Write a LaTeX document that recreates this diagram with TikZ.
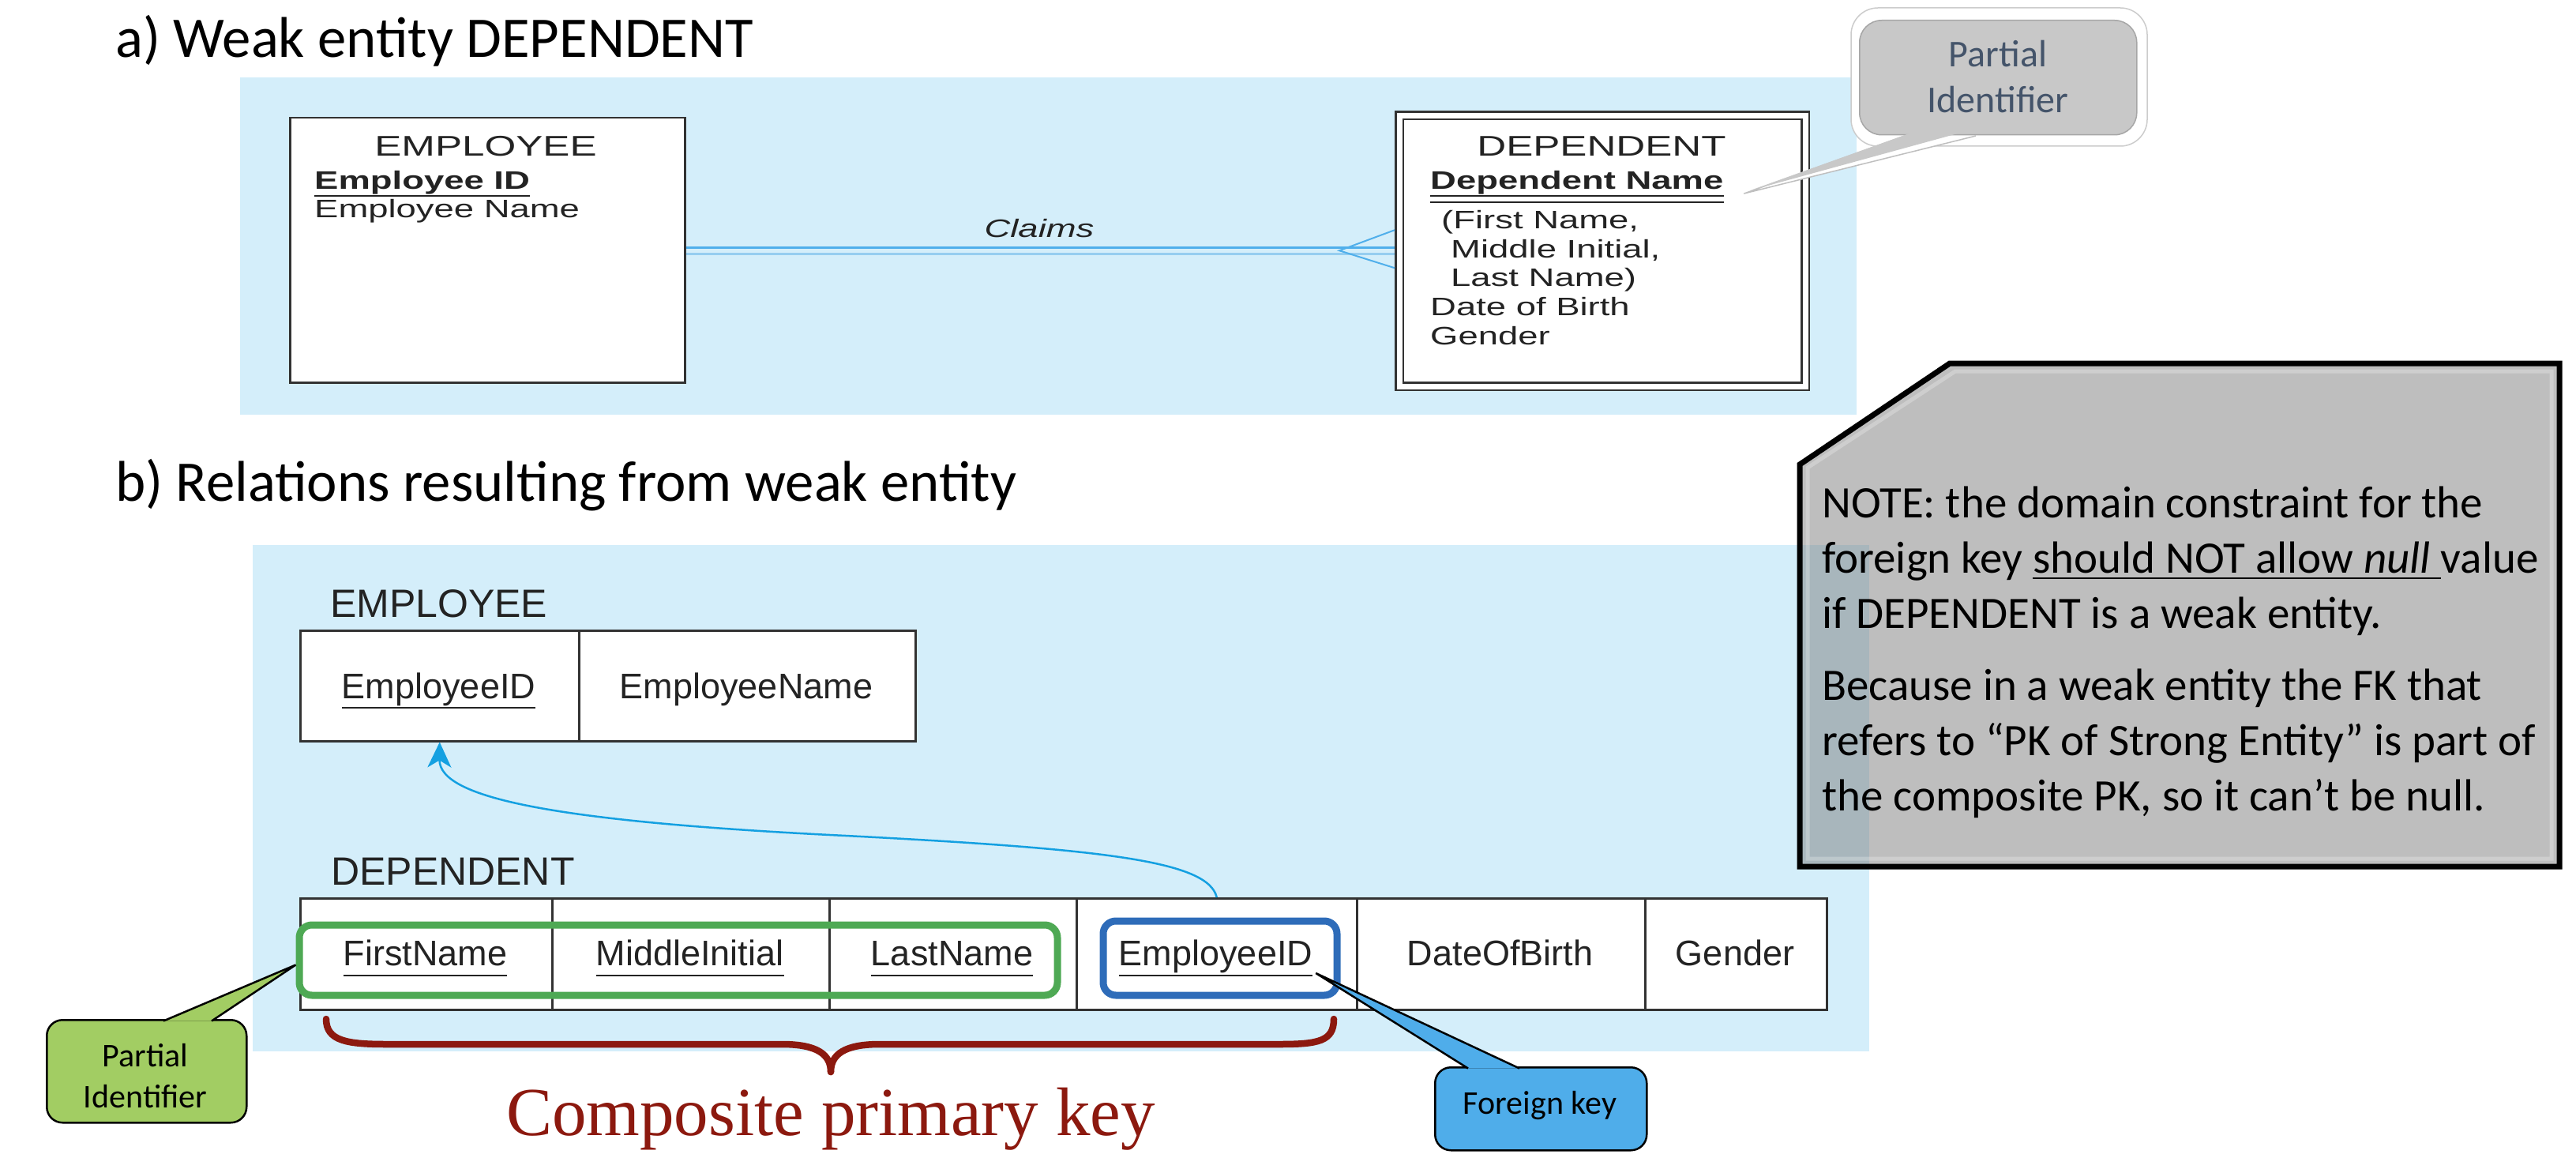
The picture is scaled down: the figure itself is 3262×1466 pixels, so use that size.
\documentclass[tikz,border=0pt]{standalone}
\usepackage{fontspec}
\setmainfont{Carlito}
\newfontfamily\erA[FakeStretch=1.42]{Liberation Sans}
\newfontfamily\erB{Liberation Sans}
\newfontfamily\tnr{Liberation Serif}
\usetikzlibrary{arrows.meta}
\definecolor{bgblue}{RGB}{212,238,250}
\definecolor{erink}{RGB}{35,35,35}
\definecolor{erline}{RGB}{50,50,50}
\definecolor{relA}{RGB}{80,175,235}
\definecolor{relB}{RGB}{150,205,240}
\definecolor{fkblue}{RGB}{20,160,225}
\definecolor{pkgreen}{RGB}{78,169,84}
\definecolor{fkbox}{RGB}{46,108,185}
\definecolor{pkmaroon}{RGB}{140,25,15}
\definecolor{greenfill}{RGB}{162,205,99}
\definecolor{bluefill}{RGB}{79,173,234}
\definecolor{callfill}{RGB}{200,200,200}
\definecolor{slate}{RGB}{68,84,106}
\definecolor{notegray}{RGB}{124,124,124}
\newcommand\myul[1]{\setbox0\hbox{#1}\rlap{\rule[-8pt]{\wd0}{2.5pt}}\box0}
\begin{document}
\begin{tikzpicture}[x=1pt,y=-1pt,
 ttl/.style={anchor=base west,inner sep=0pt,font=\fontsize{72.8}{87}\selectfont},
 erbox/.style={draw=erline,line width=2.5pt,fill=white,inner sep=0pt,anchor=north west},
 titA/.style={anchor=base,inner sep=0pt,text=erink,font=\erA\fontsize{36}{43}\selectfont},
 attA/.style={anchor=base west,inner sep=0pt,text=erink,font=\erA\fontsize{32}{38}\selectfont},
 labB/.style={anchor=base west,inner sep=0pt,text=erink,font=\erB\fontsize{50}{60}\selectfont},
 attB/.style={anchor=base,inner sep=0pt,text=erink,font=\erB\fontsize{45}{54}\selectfont},
 uline/.style={draw=erink,line width=2.5pt},
 relline/.style={line width=2.5pt},
 crow/.style={draw=relA,line width=2pt},
 fkarrow/.style={draw=fkblue,line width=2.5pt,-{Stealth[length=32pt,width=30pt,inset=9pt]}},
 hilite/.style={draw,rounded corners=16pt,line width=9pt,inner sep=0pt,anchor=north west},
 callout/.style={draw=black,line width=2.5pt,rounded corners=20pt,inner sep=0pt,anchor=north west},
 calltext/.style={anchor=base,inner sep=0pt,font=\fontsize{42}{50}\selectfont},
 notetext/.style={anchor=base west,inner sep=0pt,font=\fontsize{57}{70}\selectfont}
]
\useasboundingbox (0,0) rectangle (3262,1466);
\fill[white] (0,0) rectangle (3262,1466);

% ---------- part a ----------
\fill[bgblue] (304,98) rectangle (2351,525);
\node[ttl] (ta) at (146,73) {a) Weak entity DEPENDENT};

\node[erbox,minimum width=500pt,minimum height=335pt] (empA) at (366,148) {};
\node[titA] (empAt) at (615,197) {EMPLOYEE};
\node[attA] (empAid) at (398,239) {\bfseries Employee ID};
\draw[uline] ([yshift=-9pt]empAid.base west) -- ([yshift=-9pt]empAid.base east);
\node[attA] (empAn) at (398,275) {Employee Name};

\node[erbox,double=white,double distance=7pt,minimum width=514pt,minimum height=343pt] (depA) at (1771,145) {};
\node[titA] (depAt) at (2028,197) {DEPENDENT};
\node[attA] (depAn) at (1811,240) {\bfseries Dependent Name};
\draw[uline] ([yshift=-8pt]depAn.base west) -- ([yshift=-8pt]depAn.base east);
\draw[uline] ([yshift=-16pt]depAn.base west) -- ([yshift=-16pt]depAn.base east);
\node[attA] (depA1) at (1825,289) {(First Name,};
\node[attA] (depA2) at (1837,326) {Middle Initial,};
\node[attA] (depA3) at (1837,362) {Last Name)};
\node[attA] (depA4) at (1811,399) {Date of Birth};
\node[attA] (depA5) at (1811,436) {Gender};
\node[attA,anchor=base] (claims) at (1316,300) {\itshape Claims};

\draw[relline,draw=relA] ([yshift=3.5pt]empA.east) -- ([xshift=-5pt,yshift=4.5pt]depA.west);
\draw[relline,draw=relB] ([yshift=-4.5pt]empA.east) -- ([xshift=-5pt,yshift=-3.5pt]depA.west);
\draw[crow] ([xshift=-5pt,yshift=26.5pt]depA.west) -- ([xshift=-75pt,yshift=0.5pt]depA.west) -- ([xshift=-5pt,yshift=-21.5pt]depA.west);

% top callout
\draw[gray!40,line width=1.5pt,fill=white,rounded corners=34pt] (2344,10) rectangle (2719,185);
\draw[gray!50,line width=1.5pt,fill=white,line join=round] (2412,172) -- ([xshift=26pt,yshift=-5pt]depAn.base east) -- (2502,172);
\node[draw=gray!70,line width=1.5pt,fill=callfill,rounded corners=28pt,minimum width=351pt,minimum height=145pt,inner sep=0pt,anchor=north west] (pcall) at (2354,25) {};
\fill[callfill] (2426,166) -- ([xshift=34pt,yshift=-1pt]depAn.base east) -- (2490,166) -- cycle;
\node[calltext,font=\fontsize{48}{58}\selectfont,text=slate] (pc1) at (2530,85) {Partial};
\node[calltext,font=\fontsize{48}{58}\selectfont,text=slate] (pc2) at (2530,143) {Identifier};

% ---------- part b ----------
\fill[bgblue] (320,690) rectangle (2367,1331);
\node[ttl] (tb) at (146,634) {b) Relations resulting from weak entity};

\node[labB] (empBl) at (418,781) {EMPLOYEE};
\node[erbox,minimum width=353pt,minimum height=140pt] (e1) at (379,797) {};
\node[erbox,minimum width=426pt,minimum height=140pt] (e2) at (732,797) {};
\node[attB] (e1t) at (555.5,884) {EmployeeID};
\draw[uline] ([yshift=-12pt]e1t.base west) -- ([yshift=-12pt]e1t.base east);
\node[attB] (e2t) at (945,884) {EmployeeName};

\node[labB] (depBl) at (419,1120) {DEPENDENT};
\node[erbox,minimum width=319pt,minimum height=141pt] (d1) at (379,1136) {};
\node[erbox,minimum width=351pt,minimum height=141pt] (d2) at (698,1136) {};
\node[erbox,minimum width=313pt,minimum height=141pt] (d3) at (1049,1136) {};
\node[erbox,minimum width=355pt,minimum height=141pt] (d4) at (1362,1136) {};
\node[erbox,minimum width=365pt,minimum height=141pt] (d5) at (1717,1136) {};
\node[erbox,minimum width=230pt,minimum height=141pt] (d6) at (2082,1136) {};
\node[attB] (d1t) at (538.5,1222) {FirstName};
\node[attB] (d2t) at (873.5,1222) {MiddleInitial};
\node[attB] (d3t) at (1205.5,1222) {LastName};
\node[attB] (d4t) at (1539.5,1222) {EmployeeID};
\node[attB] (d5t) at (1899.5,1222) {DateOfBirth};
\node[attB] (d6t) at (2197,1222) {Gender};
\foreach \n in {d1t,d2t,d3t,d4t}
  \draw[uline] ([yshift=-13pt]\n.base west) -- ([yshift=-13pt]\n.base east);

\node[hilite,draw=pkgreen,minimum width=960pt,minimum height=89pt] (pk) at (374.5,1166.5) {};
\node[hilite,draw=fkbox,minimum width=296pt,minimum height=94pt] (fk) at (1392.5,1161.5) {};

\draw[fkarrow] (d4.north) .. controls (1530,1090) and (1400,1075) .. (1071,1058) .. controls (700,1040) and (556,1010) .. (e1.south);

% brace
\draw[pkmaroon,line width=8.5pt,line cap=round] (413,1290) .. controls (413,1318) and (440,1322) .. (490,1322) -- (990,1322) .. controls (1035,1322) and (1052,1335) .. (1052,1357);
\draw[pkmaroon,line width=8.5pt,line cap=round] (1052,1357) .. controls (1052,1335) and (1069,1322) .. (1114,1322) -- (1620,1322) .. controls (1670,1322) and (1689,1318) .. (1689,1290);
\node[anchor=base west,inner sep=0pt,text=pkmaroon,font=\tnr\fontsize{87}{100}\selectfont] (cpk) at (641,1437) {Composite primary key};

% green callout
\node[callout,fill=greenfill,minimum width=253pt,minimum height=130pt] (gcall) at (58,1290) {};
\draw[black,line width=2.5pt,fill=greenfill] (207,1292.5) -- ([yshift=-6pt]pk.west) -- (268,1292.5);
\node[calltext] (g1) at (184,1350) {Partial};
\node[calltext] (g2) at (184,1402) {Identifier};

% blue callout
\node[callout,fill=bluefill,minimum width=268pt,minimum height=105pt] (bcall) at (1816,1350) {};
\draw[black,line width=2.5pt,fill=bluefill] (1859,1352.5) -- ([xshift=4pt,yshift=-10pt]d4t.base east) -- (1924,1352.5);
\node[calltext] (b1) at (1950,1410) {Foreign key};

% note box
\path[draw=black,line width=7pt,fill=notegray,fill opacity=0.49,line join=miter] (2469,460) -- (3241,460) -- (3241,1097) -- (2279,1097) -- (2279,588) -- cycle;
\draw[white,opacity=0.25,line width=5pt] (2476,470) -- (3231,470) -- (3231,1087) -- (2289,1087) -- (2289,592) -- cycle;
\node[notetext] (n1) at (2307,655) {NOTE: the domain constraint for the};
\node[notetext] (n2) at (2307,725) {foreign key \myul{should NOT allow \textit{null}\ }value};
\node[notetext] (n3) at (2307,795) {if DEPENDENT is a weak entity.};
\node[notetext] (n4) at (2307,886) {Because in a weak entity the FK that};
\node[notetext] (n5) at (2307,956) {refers to “PK of Strong Entity” is part of};
\node[notetext] (n6) at (2307,1026) {the composite PK, so it can’t be null.};
\end{tikzpicture}
\end{document}
